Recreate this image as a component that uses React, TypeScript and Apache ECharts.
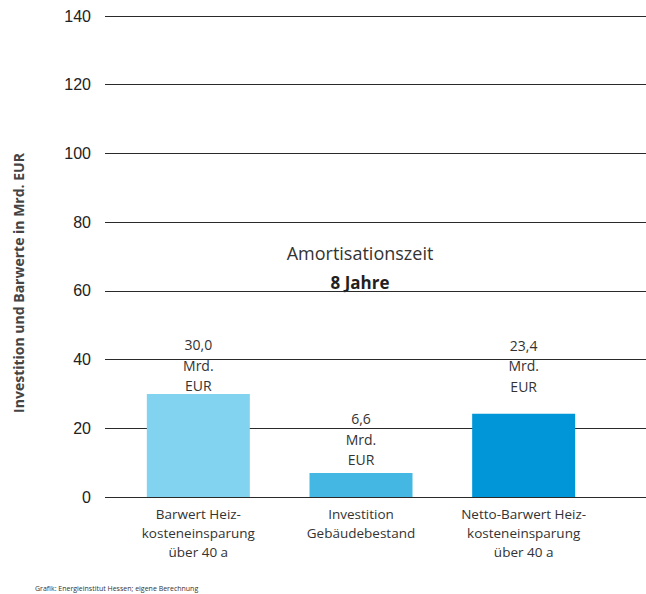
import React, { useEffect, useRef } from "react";
import * as echarts from "echarts";

const categories = [
  "Barwert Heiz-\nkosteneinsparung\nüber 40 a",
  "Investition\nGebäudebestand",
  "Netto-Barwert Heiz-\nkosteneinsparung\nüber 40 a",
];
const values = [30.0, 7.0, 24.2];
const valueLabels = ["30,0", "6,6", "23,4"];
const labelShift = [2, -3, -17.5];
const barColors = ["#81D3EF", "#45B7E3", "#0096D8"];
const yMin = 0;
const yMax = 140;
const yInterval = 20;
const yAxisName = "Investition und Barwerte in Mrd. EUR";
const annotationTitle = "Amortisationszeit";
const annotationValue = "8 Jahre";
const sourceText = "Grafik: Energieinstitut Hessen; eigene Berechnung";

const FONT = "'Open Sans', 'Noto Sans', sans-serif";

export default function App() {
  const ref = useRef<HTMLDivElement>(null);
  useEffect(() => {
    if (!ref.current) return;
    const chart = echarts.init(ref.current, null, { renderer: "svg" });
    chart.setOption({
      animation: false,
      backgroundColor: "#ffffff",
      grid: [
        { left: 117, right: 41, top: 16, bottom: 97 },
        { left: 105, right: 0, top: 16, bottom: 97 },
      ],
      xAxis: [
        {
          type: "category",
          gridIndex: 0,
          data: categories,
          axisLine: { show: false },
          axisTick: { show: false },
          axisLabel: {
            fontFamily: FONT,
            fontSize: 13.5,
            lineHeight: 19,
            color: "#333333",
            margin: 7,
            interval: 0,
          },
        },
        {
          type: "category",
          gridIndex: 1,
          data: ["a"],
          show: false,
        },
      ],
      yAxis: [
        {
          type: "value",
          gridIndex: 0,
          min: yMin,
          max: yMax,
          interval: yInterval,
          show: false,
          splitLine: { show: false },
        },
        {
          type: "value",
          gridIndex: 1,
          min: yMin,
          max: yMax,
          interval: yInterval,
          axisLine: { show: false },
          axisTick: { show: false },
          axisLabel: {
            fontFamily: "'Liberation Sans', Arial, sans-serif",
            fontSize: 16,
            color: "#222222",
            margin: 14,
          },
          splitLine: { show: true, lineStyle: { color: "#2a2a2a", width: 1 } },
        },
      ],
      series: [
        {
          type: "bar",
          xAxisIndex: 0,
          yAxisIndex: 0,
          barWidth: 103,
          data: values.map((v, i) => ({
            value: v,
            itemStyle: { color: barColors[i] },
            label: {
              show: true,
              position: "top",
              distance: 0,
              offset: [0, labelShift[i]],
              formatter: valueLabels[i] + "\nMrd.\nEUR",
              fontFamily: FONT,
              fontSize: 14,
              lineHeight: 20.5,
              color: "#333333",
            },
          })),
        },
      ],
      graphic: [
        {
          type: "text",
          x: 18,
          y: 283,
          rotation: Math.PI / 2,
          style: {
            text: yAxisName,
            font: `bold 14px ${FONT}`,
            fill: "#444444",
            textAlign: "center",
            textVerticalAlign: "middle",
          },
        },
        {
          type: "text",
          x: 360,
          y: 253,
          style: {
            text: annotationTitle,
            font: `18px ${FONT}`,
            fill: "#333333",
            textAlign: "center",
            textVerticalAlign: "middle",
          },
        },
        {
          type: "text",
          x: 360,
          y: 282,
          style: {
            text: annotationValue,
            font: `bold 17px ${FONT}`,
            fill: "#231f20",
            textAlign: "center",
            textVerticalAlign: "middle",
          },
        },
        {
          type: "text",
          x: 35,
          y: 588,
          style: {
            text: sourceText,
            font: `7px ${FONT}`,
            fill: "#333333",
            textAlign: "left",
            textVerticalAlign: "middle",
          },
        },
      ],
    });
    return () => chart.dispose();
  }, []);
  return <div ref={ref} style={{ width: 646, height: 594, position: "absolute", left: 0, top: 0 }} />;
}
